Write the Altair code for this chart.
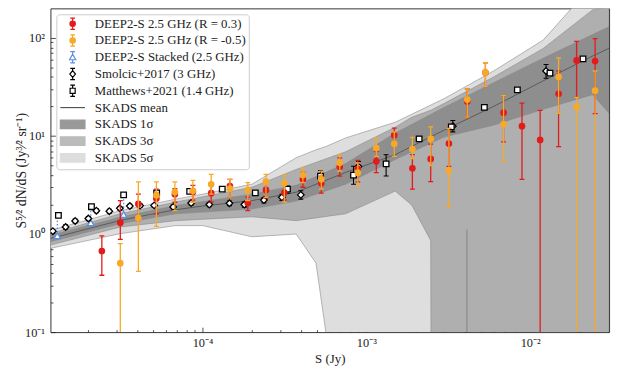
import altair as alt
import pandas as pd

# ---------------- data ----------------
# DEEP2-S 2.5 GHz bins
bin_S = [2.43e-5, 3.15e-5, 4.06e-5, 5.23e-5, 6.78e-5, 8.74e-5, 1.13e-4, 1.47e-4, 1.89e-4, 2.44e-4,
         3.16e-4, 4.10e-4, 5.31e-4, 6.88e-4, 8.87e-4, 1.15e-3, 1.48e-3, 1.91e-3, 2.47e-3, 3.19e-3,
         4.13e-3, 5.33e-3, 6.88e-3, 8.91e-3, 1.15e-2, 1.49e-2, 1.92e-2, 2.49e-2]
red_y = [0.672, 1.305, 2.03, 2.31, 2.54, 2.69, 2.61, 3.09, 2.07, 2.82,
         2.65, 3.61, 3.29, 4.85, 4.63, 5.52, 10.2, 4.69, 5.83, 8.37,
         22.5, 44.3, 17.3, 12.6, 9.12, 26.9, 59.0, 58.0]
red_hi = [0.959, 2.19, 2.55, 2.87, 2.91, 3.14, 3.29, 3.61, 2.38, 3.53,
          3.14, 4.25, 3.90, 5.97, 5.65, 6.95, 12.0, 6.44, 8.26, 11.95,
          30.2, 55.8, 25.8, 21.6, 18.2, 46.0, 92.2, 98.2]
red_lo = [0.380, 0.881, 1.37, 1.61, 2.11, 2.22, 2.12, 2.37, 1.73, 2.33,
          2.22, 3.00, 2.61, 3.90, 3.40, 4.22, 8.12, 2.87, 3.43, 4.91,
          15.6, 31.8, 8.7, 3.61, 0.01, 7.8, 24.8, 16.9]

orange_y = [None, 0.505, 1.455, 2.49, 2.69, 2.76, 3.22, 2.91, 2.80, 3.43,
            3.29, 3.99, 3.61, 5.32, 4.22, 7.52, 8.31, 7.35, 9.33, 4.42,
            23.5, 44.3, 13.2, None, None, 40.1, 19.7, 29.0]
orange_hi = [None, 0.80, 3.40, 3.40, 3.40, 3.53, 4.06, 3.61, 3.35, 4.06,
             3.99, 4.74, 4.38, 6.44, 5.32, 9.48, 11.0, 9.7, 12.4, 11.95,
             30.2, 55.8, 25.8, None, None, 62.7, 24.8, 46.0]
orange_lo = [None, 0.01, 0.417, 1.20, 1.73, 2.11, 2.55, 2.38, 2.19, 2.37,
             2.12, 3.35, 2.87, 4.38, 3.09, 6.19, 6.19, 5.87, 4.99, 1.88,
             15.6, 31.8, 5.52, None, None, 17.0, 0.01, 0.01]

# DEEP2-S stacked
stack_S = [1.30e-5, 2.08e-5, 3.30e-5]
stack_y = [0.959, 1.305, 1.58]
stack_hi = [1.46, 1.80, 2.37]

# Smolcic+2017 (3 GHz)
smol_S = [1.22e-5, 1.46e-5, 1.67e-5, 2.01e-5, 2.25e-5, 2.70e-5, 3.13e-5, 3.60e-5, 4.16e-5, 5.07e-5,
          6.62e-5, 8.53e-5, 1.10e-4, 1.46e-4, 1.80e-4, 2.37e-4, 3.05e-4, 3.98e-4, 8.95e-4, 3.37e-3, 1.25e-2]
smol_y = [1.07, 1.18, 1.36, 1.44, 1.73, 1.71, 1.83, 1.93, 1.95, 1.96,
          1.89, 2.07, 2.00, 2.06, 2.00, 2.22, 2.37, 2.51, 4.88, 12.6, 46.0]
smol_lo = [1.02, 1.12, 1.30, 1.37, 1.65, 1.63, 1.75, 1.85, 1.87, 1.88,
           1.80, 1.97, 1.90, 1.95, 1.88, 2.08, 2.20, 2.27, 4.3, 11.0, 38.8]
smol_hi = [1.12, 1.24, 1.42, 1.51, 1.81, 1.79, 1.91, 2.01, 2.03, 2.04,
           1.98, 2.17, 2.10, 2.17, 2.12, 2.36, 2.55, 2.76, 5.5, 14.4, 53.6]

# Matthews+2021 (1.4 GHz)
matt_S = [1.32e-5, 2.10e-5, 3.30e-5, 5.25e-5, 8.35e-5, 1.32e-4, 2.10e-4, 3.30e-4, 5.25e-4, 8.35e-4,
          1.32e-3, 2.10e-3, 3.30e-3, 5.25e-3, 8.35e-3, 1.32e-2, 2.10e-2]
matt_y = [1.55, 1.90, 2.51, 2.63, 2.72, 2.87, 2.63, 2.87, 3.90, 3.99,
          5.20, 9.33, 12.4, 19.6, 29.5, 43.7, 61.2]
matt_lo = [1.50, 1.84, 2.43, 2.55, 2.63, 2.77, 2.52, 2.61, 3.45, 3.22,
           3.90, 8.9, 11.9, 18.9, 28.5, 42.2, 59.0]
matt_hi = [1.60, 1.96, 2.59, 2.71, 2.81, 2.97, 2.74, 3.09, 4.45, 4.91,
           6.44, 9.8, 12.9, 20.3, 30.5, 45.2, 63.4]

# SKADS simulation
mean_S = [1.18e-5, 2.03e-5, 3.16e-5, 4.67e-5, 6.87e-5, 1.0e-4, 2.0e-4, 3.73e-4, 7.47e-4, 1.5e-3,
          2.99e-3, 5.98e-3, 1.2e-2, 2.4e-2, 3.03e-2]
mean_y = [0.901, 1.14, 1.38, 1.57, 1.77, 1.93, 2.19, 2.67, 4.25, 6.44,
          11.5, 20.0, 36.5, 65.2, 78.4]

s1_S = [1.18e-5, 3.16e-5, 6.87e-5, 2.0e-4, 3.73e-4, 7.47e-4, 1.5e-3, 2.99e-3, 5.98e-3, 1.2e-2, 2.4e-2, 3.03e-2]
s1_hi = [0.973, 1.49, 1.95, 2.55, 3.14, 5.23, 10.7, 19.6, 34.9, 62.2, 108, 130]
s1_lo = [0.835, 1.28, 1.61, 1.80, 2.17, 3.22, 5.74, 9.77, 12.9, 18.7, 26.4, 17.0]

s3_S = [1.18e-5, 3.16e-5, 6.87e-5, 2.0e-4, 3.73e-4, 7.47e-4, 1.5e-3, 1.89e-3, 2.47e-3, 2.49e-3,
        2.99e-3, 5.98e-3, 1.2e-2, 2.4e-2, 3.03e-2]
s3_hi = [1.01, 1.61, 2.12, 3.0, 4.55, 6.90, 12.3, 15.5, 18.3, 18.4, 21.5, 40.0, 78.0, 193, 207]
s3_lo = [0.772, 1.18, 1.37, 1.50, 1.37, 1.61, 2.74, 1.98, 0.86, 0.01, 0.01, 0.01, 0.01, 0.01, 0.01]

s5_S = [1.18e-5, 3.16e-5, 6.87e-5, 1.0e-4, 2.0e-4, 3.73e-4, 4.93e-4, 5.66e-4, 7.47e-4, 1.5e-3,
        2.99e-3, 5.98e-3, 1.2e-2, 1.82e-2, 3.03e-2]
s5_hi = [1.09, 1.73, 2.27, 2.55, 3.22, 6.0, 7.23, 7.8, 9.55, 13.8, 24.1, 46.0, 95.0, 207, 400]
s5_lo = [0.715, 1.01, 1.22, 1.22, 0.938, 1.0, 0.505, 0.1, 0.01, 0.01, 0.01, 0.01, 0.01, 0.01, 0.01]

edge_S = [4.11e-3]
edge_top = [1.11]
edge_bot = [0.01]

legend_labels = ["DEEP2-S 2.5 GHz (R = 0.3)", "DEEP2-S 2.5 GHz (R = -0.5)", "DEEP2-S Stacked (2.5 GHz)",
                 "Smolcic+2017 (3 GHz)", "Matthews+2021 (1.4 GHz)", "SKADS mean",
                 "SKADS 1\u03c3", "SKADS 3\u03c3", "SKADS 5\u03c3"]

x_major = [1e-4, 1e-3, 1e-2]
y_major = [0.1, 1, 10, 100]
x_minor = [k * 10.0 ** e for e in (-5, -4, -3, -2) for k in range(2, 10)]
x_minor = [v for v in x_minor if 1.18e-5 <= v <= 0.0303]
y_minor = [k * 10.0 ** e for e in (-1, 0, 1) for k in range(2, 10)]

# ---------------- styling ----------------
RED = "#e31b1b"
ORANGE = "#f7a928"
BLUE = "#5b8fe0"
W, H = 566, 328
FONT = "Liberation Serif"

xs = alt.Scale(type="log", domain=[1.18e-5, 0.0303], nice=False)
ys = alt.Scale(type="log", domain=[0.1, 200], nice=False)

x_axis = alt.Axis(values=x_major, ticks=False, grid=False, domain=False,
                  labelExpr="datum.value < 0.0005 ? '10\u207b\u2074' : datum.value < 0.005 ? '10\u207b\u00b3' : '10\u207b\u00b2'",
                  labelFont=FONT, labelFontSize=12.5, labelColor="#222", labelPadding=5,
                  title="S (Jy)", titleFont=FONT, titleFontSize=13, titleFontWeight="normal",
                  titleColor="#222", titlePadding=3)
y_axis = alt.Axis(values=y_major, ticks=False, grid=False, domain=False,
                  labelExpr="datum.value < 0.5 ? '10\u207b\u00b9' : datum.value < 5 ? '10\u2070' : datum.value < 50 ? '10\u00b9' : '10\u00b2'",
                  labelFont=FONT, labelFontSize=12.5, labelColor="#222", labelPadding=6,
                  title="S\u2075\u2044\u00b2  dN/dS  (Jy\u00b3\u2044\u00b2  sr\u207b\u00b9)", titleFont=FONT,
                  titleFontSize=14, titleFontWeight="normal", titleColor="#222",
                  titleX=-29, titleY=H / 2, titleBaseline="middle", titleAngle=270, titleAlign="center")


def X(field):
    return alt.X(field, type="quantitative", scale=xs, axis=x_axis)


def Y(field):
    return alt.Y(field, type="quantitative", scale=ys, axis=y_axis)


def band(S, lo, hi, fill):
    df = pd.DataFrame({"S": S, "lo": lo, "hi": hi})
    return alt.Chart(df).mark_area(fill=fill, stroke="#8a8a8a", strokeWidth=0.6, clip=True).encode(
        x=X("S"), y=Y("lo"), y2="hi")


def errorbars(S, y, lo, hi, color, shape, size, fill, stroke, sw=1.3, cap=True):
    df = pd.DataFrame({"S": S, "y": y, "lo": lo, "hi": hi}).dropna()
    layers = [alt.Chart(df).mark_rule(color=color, strokeWidth=sw, clip=True).encode(
        x=X("S"), y=Y("lo"), y2="hi")]
    if cap:
        for f in ("lo", "hi"):
            layers.append(alt.Chart(df).mark_point(shape="M-1,0L1,0", size=25, stroke=color,
                                                   strokeWidth=sw, filled=False, opacity=1, clip=True)
                          .encode(x=X("S"), y=Y(f)))
    layers.append(alt.Chart(df).mark_point(shape=shape, size=size, fill=fill, stroke=stroke,
                                           strokeWidth=1.3, filled=True, opacity=1, fillOpacity=1,
                                           clip=True).encode(x=X("S"), y=Y("y")))
    return layers


bands = [band(s5_S, s5_lo, s5_hi, "#dedede"),
         band(s3_S, s3_lo, s3_hi, "#afafaf"),
         band(s1_S, s1_lo, s1_hi, "#8e8e8e")]

edge = alt.Chart(pd.DataFrame({"S": edge_S, "a": edge_top, "b": edge_bot})).mark_rule(
    color="#7a7a7a", strokeWidth=0.8, clip=True).encode(x=X("S"), y=Y("a"), y2="b")

mean_line = alt.Chart(pd.DataFrame({"S": mean_S, "y": mean_y})).mark_line(
    color="#4d4d4d", strokeWidth=0.8, clip=True).encode(x=X("S"), y=Y("y"))

stack_df = pd.DataFrame({"S": stack_S, "y": stack_y, "hi": stack_hi})
stack_err = alt.Chart(stack_df).mark_rule(color=BLUE, strokeWidth=1.3, strokeDash=[1.5, 2], clip=True).encode(
    x=X("S"), y=Y("y"), y2="hi")
stack_pts = alt.Chart(stack_df).mark_point(shape="triangle-up", size=45, fill="white", stroke=BLUE,
                                           strokeWidth=1.3, filled=True, opacity=1, clip=True).encode(
    x=X("S"), y=Y("y"))

smol = errorbars(smol_S, smol_y, smol_lo, smol_hi, "black", "diamond", 45, "white", "black", sw=1.1)
matt = errorbars(matt_S, matt_y, matt_lo, matt_hi, "black", "square", 32, "white", "black", sw=1.1)
red = errorbars(bin_S, red_y, red_lo, red_hi, RED, "circle", 30, RED, RED)
orange = errorbars(bin_S, orange_y, orange_lo, orange_hi, ORANGE, "circle", 30, ORANGE, ORANGE)

# legend built from the scales of an off-range layer
EB = "M0,-1L0,1M-0.42,-1L0.42,-1M-0.42,1L0.42,1"
RECT = "M0,-1M0,1M-2.19,-0.75L2.19,-0.75L2.19,0.75L-2.19,0.75Z"
paths = [
    EB + "M0.48,0A0.48,0.48,0,1,1,-0.48,0A0.48,0.48,0,1,1,0.48,0Z",
    EB + "M0.48,0A0.48,0.48,0,1,1,-0.48,0A0.48,0.48,0,1,1,0.48,0Z",
    "M0,-1L0,-0.52M0,0.45L0,1M-0.42,-1L0.42,-1M-0.42,1L0.42,1M0,-0.52L0.55,0.45L-0.55,0.45Z",
    "M0,-1L0,-0.6M0,0.6L0,1M-0.42,-1L0.42,-1M-0.42,1L0.42,1M0,-0.6L0.5,0L0,0.6L-0.5,0Z",
    "M0,-1L0,-0.45M0,0.45L0,1M-0.42,-1L0.42,-1M-0.42,1L0.42,1M-0.45,-0.45L0.45,-0.45L0.45,0.45L-0.45,0.45Z",
    "M0,-1M0,1M-2.19,0L2.19,0",
    RECT, RECT, RECT,
]
fills = [RED, ORANGE, "white", "white", "white", "transparent", "#999999", "#bbbbbb", "#dddddd"]
strokes = [RED, ORANGE, BLUE, "black", "black", "#555555", "#999999", "#bbbbbb", "#dddddd"]

leg = alt.Legend(title=None, orient="top-left", offset=6, padding=3, fillColor="white",
                 strokeColor="#cccccc", cornerRadius=3, labelFont=FONT, labelFontSize=13,
                 labelColor="#222", labelLimit=400, symbolSize=130, rowPadding=0, labelOffset=16,
                 symbolOffset=7, symbolStrokeWidth=1.2)
leg_df = pd.DataFrame({"entry": legend_labels, "S": [1e-9] * 9, "y": [1e-9] * 9})
legend_layer = alt.Chart(leg_df).mark_point(clip=True, strokeWidth=1.2, opacity=1).encode(
    x=X("S"), y=Y("y"),
    shape=alt.Shape("entry:N", scale=alt.Scale(domain=legend_labels, range=paths), legend=leg),
    fill=alt.Fill("entry:N", scale=alt.Scale(domain=legend_labels, range=fills), legend=leg),
    stroke=alt.Stroke("entry:N", scale=alt.Scale(domain=legend_labels, range=strokes), legend=leg),
)

main = alt.layer(*bands, edge, mean_line, stack_err, stack_pts, *smol, *matt, *red, *orange,
                 legend_layer)

# inward ticks: axes placed on the opposite edges
tick_df = pd.DataFrame({"S": [1e-9], "y": [1e-9]})


def xticks(vals, size):
    return alt.Chart(tick_df).mark_point(opacity=0, clip=True).encode(
        x=alt.X("S:Q", scale=xs, axis=alt.Axis(orient="top", offset=-H, values=vals, labels=False,
                                               domain=False, grid=False, tickSize=size, tickColor="#222",
                                               tickWidth=0.8, title=None)),
        y=alt.Y("y:Q", scale=ys, axis=None))


def yticks(vals, size):
    return alt.Chart(tick_df).mark_point(opacity=0, clip=True).encode(
        y=alt.Y("y:Q", scale=ys, axis=alt.Axis(orient="right", offset=-W, values=vals, labels=False,
                                               domain=False, grid=False, tickSize=size, tickColor="#222",
                                               tickWidth=0.8, title=None)),
        x=alt.X("S:Q", scale=xs, axis=None))


chart = alt.layer(main, xticks(x_major, 5), xticks(x_minor, 2.5), yticks(y_major, 5), yticks(y_minor, 2.5)
                  ).resolve_scale(x="independent", y="independent").properties(
    width=W, height=H,
    autosize=alt.AutoSizeParams(type="none"),
    padding={"left": 43, "top": -2, "right": 6, "bottom": 36},
).configure_view(stroke="#333333", strokeWidth=1)

chart.save("out.html", embed_options={"renderer": "svg", "actions": False})
